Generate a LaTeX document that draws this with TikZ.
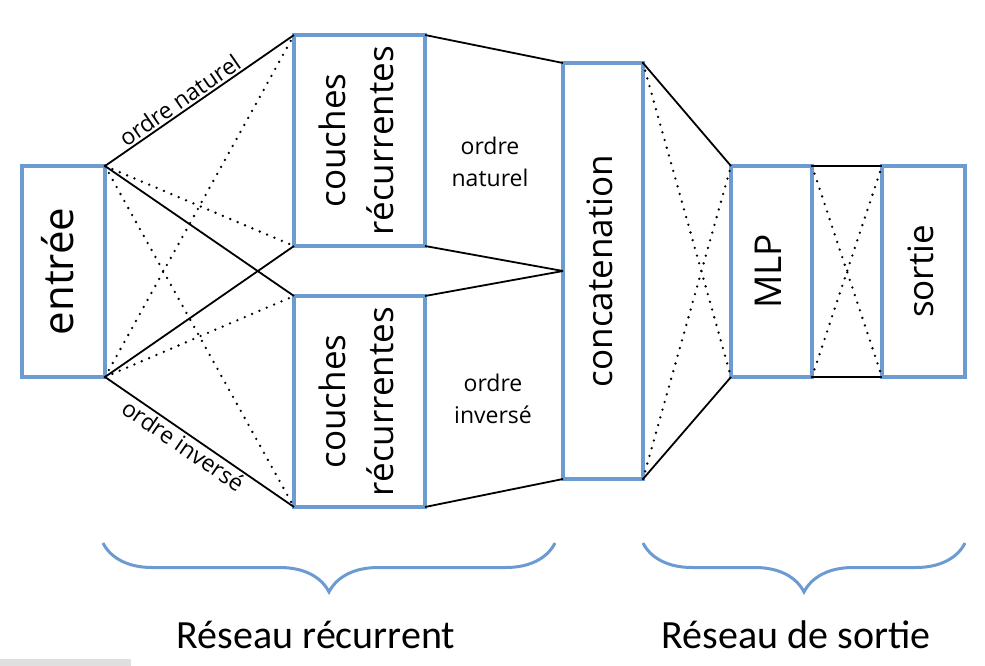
\documentclass[tikz,border=0pt]{standalone}
\usepackage{fontspec}
\setmainfont{Open Sans}
\newfontfamily\capfont{Carlito}
\usetikzlibrary{positioning,decorations.pathreplacing}
\definecolor{boxblue}{RGB}{108,155,210}

\newcommand{\vtext}[1]{\rotatebox{90}{\begin{tabular}{@{}c@{}}#1\end{tabular}}}

\begin{document}
\begin{tikzpicture}
        [x = 1pt, y = -1pt, node distance = 50pt,
        box/.style = {rectangle, draw=boxblue, line width=4pt, outer sep=0pt, inner sep=0pt,
                      font=\fontsize{35}{48}\selectfont},
        link/.style = {draw=black, line width=1.8pt},
        dots/.style = {draw=black, line width=2.6pt, line cap=round, dash pattern=on 0pt off 8pt},
        lbl/.style = {font=\fontsize{23}{32}\selectfont, align=center, inner sep=2pt},
        brc/.style = {draw=boxblue, line width=3pt, decorate, decoration={brace, mirror, amplitude=49pt}},
        captxt/.style = {font=\capfont\fontsize{40}{44}\selectfont, anchor=base}]

        \useasboundingbox (0,0) rectangle (985,666);

        %% place elements on canvas
        \node[box, minimum width=83pt, minimum height=211pt, font=\fontsize{42}{48}\selectfont]
              (entree) at (63.5,271.5) {\vtext{entrée}};
        \node[box, minimum width=131pt, minimum height=211pt] (rnnA) at (359.5,140.5) {\vtext{couches\\récurrentes}};
        \node[box, minimum width=131pt, minimum height=211pt] (rnnB) [below = of rnnA] {\vtext{couches\\récurrentes}};
        \node[box, minimum width=80pt, minimum height=416pt] (concat) at (603,271) {\vtext{concatenation}};
        \node[box, minimum width=81pt, minimum height=211pt, font=\fontsize{37}{48}\selectfont]
              (mlp) at (771.5,271.5) {\vtext{MLP}};
        \node[box, minimum width=83pt, minimum height=211pt] (sortie) [right = 70pt of mlp] {\vtext{sortie}};

        \node[lbl] (natA) at (490,162) {ordre\\naturel};
        \node[lbl] (invB) at (493,399) {ordre\\inversé};

        %% connect elements
        \draw[link] (entree.north east) -- node[lbl, sloped, above, pos=0.43] {ordre naturel} (rnnA.north west);
        \draw[link] (entree.north east) -- (rnnB.north west);
        \draw[link] (entree.south east) -- (rnnA.south west);
        \draw[link] (entree.south east) -- node[lbl, sloped, below, pos=0.45] {ordre inversé} (rnnB.south west);
        \draw[dots] (entree.north east) -- (rnnA.south west);
        \draw[dots] (entree.north east) -- (rnnB.south west);
        \draw[dots] (entree.south east) -- (rnnA.north west);
        \draw[dots] (entree.south east) -- (rnnB.north west);

        \draw[link] (rnnA.north east) -- (concat.north west);
        \draw[link] (rnnA.south east) -- (concat.west);
        \draw[link] (rnnB.north east) -- (concat.west);
        \draw[link] (rnnB.south east) -- (concat.south west);

        \draw[link] (concat.north east) -- (mlp.north west);
        \draw[link] (concat.south east) -- (mlp.south west);
        \draw[dots] (concat.north east) -- (mlp.south west);
        \draw[dots] (concat.south east) -- (mlp.north west);

        \draw[link] (mlp.north east) -- (sortie.north west);
        \draw[link] (mlp.south east) -- (sortie.south west);
        \draw[dots] (mlp.north east) -- (sortie.south west);
        \draw[dots] (mlp.south east) -- (sortie.north west);

        %% braces and captions
        \coordinate (recL) at (103,543);
        \coordinate (recR) at (555,543);
        \coordinate (outL) at (643,543);
        \coordinate (outR) at (965,543);
        \draw[brc] (recL) -- (recR);
        \draw[brc] (outL) -- (outR);

        \node[captxt] (recCap) at (316,648) {Réseau récurrent};
        \node[captxt] (outCap) at (796,648) {Réseau de sortie};

        \fill[gray!25] (0,659) rectangle (131,666);
    \end{tikzpicture}
\end{document}
